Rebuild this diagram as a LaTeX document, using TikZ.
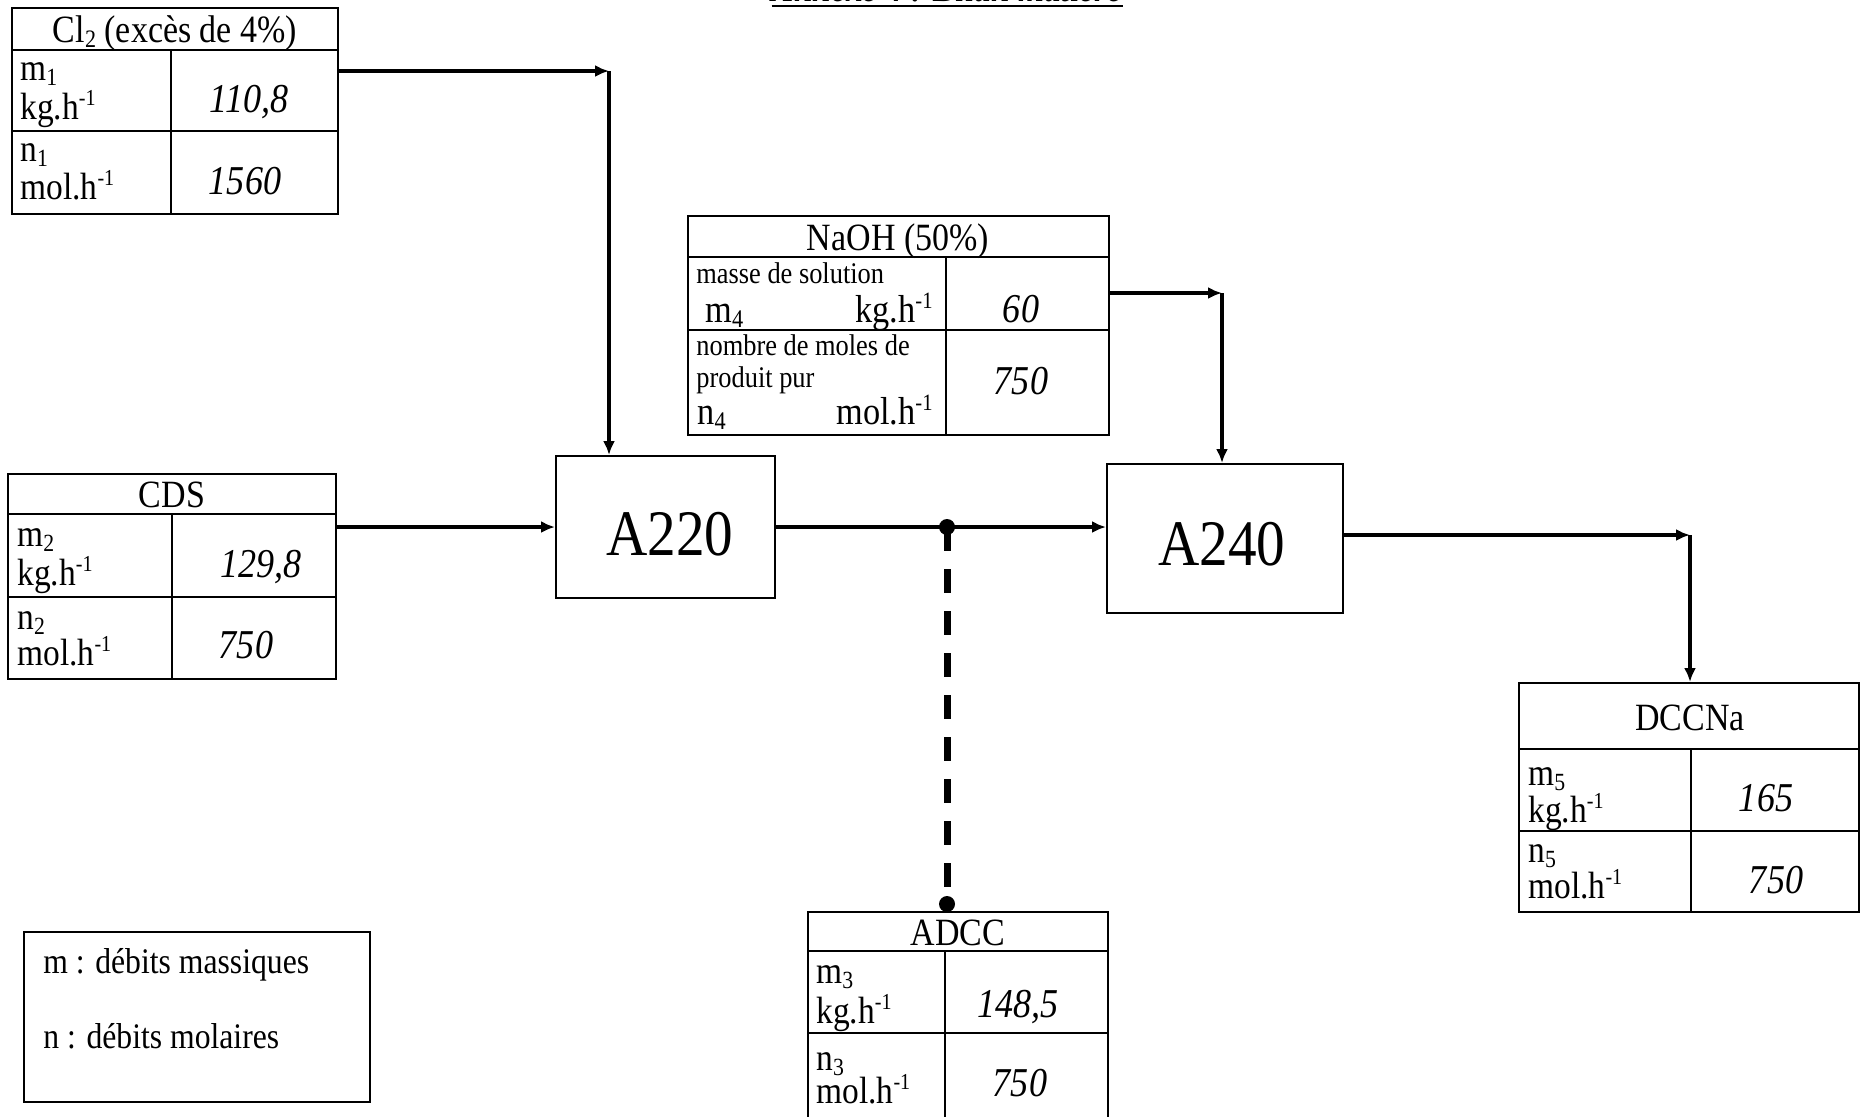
\documentclass[tikz,border=0pt]{standalone}
\usepackage{fontspec}
\setmainfont{Liberation Serif}[FakeStretch=0.88]
\usetikzlibrary{arrows.meta,fit}
\newcommand\sbt[1]{\raisebox{-0.3ex}{\scalebox{0.65}{#1}}}
\newcommand\spt[1]{\raisebox{0.75ex}{\scalebox{0.6}{#1}}}
\newcommand\fs[1]{\fontsize{#1}{#1}\selectfont}
\begin{document}
\begin{tikzpicture}[x=0.5pt,y=-0.5pt,
 cellb/.style={draw, line width=1pt, inner sep=0pt},
 hdr/.style={anchor=base, inner sep=0pt, font=\fs{19.3}},
 lab/.style={anchor=base west, inner sep=0pt, font=\fs{19}},
 unitr/.style={anchor=base east, inner sep=0pt, font=\fs{19.5}},
 smalltxt/.style={anchor=base west, inner sep=0pt, font=\fs{15}},
 val/.style={anchor=base, inner sep=0pt, font=\fs{20.5}\itshape},
 proc/.style={draw, line width=1pt, inner sep=0pt},
 big/.style={anchor=base, inner sep=0pt, font=\fs{32.5}},
 legtxt/.style={anchor=base west, inner sep=0pt, font=\fs{18}},
 flow/.style={line width=1.6pt, -{Latex[length=7pt,width=6pt]}},
 purge/.style={line width=3.5pt, dash pattern=on 12pt off 9pt},
 jdot/.style={circle, fill=black, inner sep=0pt, minimum size=8pt}]
\useasboundingbox (0,0) rectangle (1862,1116);
\clip (0,0) rectangle (1862,1116);
\fill[white] (0,0) rectangle (1862,1116);

% title (cut off at the top)
\node[anchor=base, inner sep=0pt, font=\fs{19}\bfseries\itshape] (title) at (947,1) {Annexe 4 : Bilan matière};
\draw[line width=1.2pt] ([yshift=-2.5pt]title.base west) -- ([yshift=-2.5pt]title.base east);

% Cl2 table
\node[cellb, fit={(12,8)(338,50)}] (clh) {};
\node[cellb, fit={(12,50)(171,131)}] (cll1) {};
\node[cellb, fit={(171,50)(338,131)}] (clv1) {};
\node[cellb, fit={(12,131)(171,214)}] (cll2) {};
\node[cellb, fit={(171,131)(338,214)}] (clv2) {};
\node[hdr] (clht) at (175,42) {Cl\sbt{2} (excès de 4\%)};
\node[lab] (cll1a) at (20,80) {m\sbt{1}};
\node[lab] (cll1b) at (20,119) {kg.h\spt{-1}};
\node[lab] (cll2a) at (20,161) {n\sbt{1}};
\node[lab] (cll2b) at (20,199) {mol.h\spt{-1}};
\node[val] (clv1t) at (249,112) {110,8};
\node[val] (clv2t) at (245,194) {1560};

% CDS table
\node[cellb, fit={(8,474)(336,514)}] (cdh) {};
\node[cellb, fit={(8,514)(172,597)}] (cdl1) {};
\node[cellb, fit={(172,514)(336,597)}] (cdv1) {};
\node[cellb, fit={(8,597)(172,679)}] (cdl2) {};
\node[cellb, fit={(172,597)(336,679)}] (cdv2) {};
\node[hdr] (cdht) at (172,507) {CDS};
\node[lab] (cdl1a) at (17,546) {m\sbt{2}};
\node[lab] (cdl1b) at (17,585) {kg.h\spt{-1}};
\node[lab] (cdl2a) at (17,629) {n\sbt{2}};
\node[lab] (cdl2b) at (17,665) {mol.h\spt{-1}};
\node[val] (cdv1t) at (261,577) {129,8};
\node[val] (cdv2t) at (246,658) {750};

% NaOH table
\node[cellb, fit={(688,216)(1109,257)}] (nah) {};
\node[cellb, fit={(688,257)(946,330)}] (nal1) {};
\node[cellb, fit={(946,257)(1109,330)}] (nav1) {};
\node[cellb, fit={(688,330)(946,435)}] (nal2) {};
\node[cellb, fit={(946,330)(1109,435)}] (nav2) {};
\node[hdr] (naht) at (898,250) {NaOH (50\%)};
\node[smalltxt] (nal1a) at (696,283) {masse de solution};
\node[lab, font=\fs{19.5}] (nal1b) at (705,322) {m\sbt{4}};
\node[unitr] (nal1c) at (933,322) {kg.h\spt{-1}};
\node[smalltxt] (nal2a) at (696,355) {nombre de moles de};
\node[smalltxt] (nal2b) at (696,387) {produit pur};
\node[lab, font=\fs{19.5}] (nal2c) at (697,424) {n\sbt{4}};
\node[unitr] (nal2d) at (933,424) {mol.h\spt{-1}};
\node[val] (nav1t) at (1021,322) {60};
\node[val] (nav2t) at (1021,394) {750};

% ADCC table
\node[cellb, fit={(808,912)(1108,951)}] (adh) {};
\node[cellb, fit={(808,951)(945,1033)}] (adl1) {};
\node[cellb, fit={(945,951)(1108,1033)}] (adv1) {};
\node[cellb, fit={(808,1033)(945,1130)}] (adl2) {};
\node[cellb, fit={(945,1033)(1108,1130)}] (adv2) {};
\node[hdr] (adht) at (958,945) {ADCC};
\node[lab] (adl1a) at (816,983) {m\sbt{3}};
\node[lab] (adl1b) at (816,1023) {kg.h\spt{-1}};
\node[lab] (adl2a) at (816,1070) {n\sbt{3}};
\node[lab] (adl2b) at (816,1103) {mol.h\spt{-1}};
\node[val] (adv1t) at (1018,1017) {148,5};
\node[val] (adv2t) at (1020,1096) {750};

% DCCNa table
\node[cellb, fit={(1519,683)(1859,749)}] (dch) {};
\node[cellb, fit={(1519,749)(1691,831)}] (dcl1) {};
\node[cellb, fit={(1691,749)(1859,831)}] (dcv1) {};
\node[cellb, fit={(1519,831)(1691,912)}] (dcl2) {};
\node[cellb, fit={(1691,831)(1859,912)}] (dcv2) {};
\node[hdr] (dcht) at (1690,730) {DCCNa};
\node[lab] (dcl1a) at (1528,785) {m\sbt{5}};
\node[lab] (dcl1b) at (1528,822) {kg.h\spt{-1}};
\node[lab] (dcl2a) at (1528,862) {n\sbt{5}};
\node[lab] (dcl2b) at (1528,898) {mol.h\spt{-1}};
\node[val] (dcv1t) at (1766,811) {165};
\node[val] (dcv2t) at (1776,893) {750};

% process units
\node[proc, fit={(556,456)(775,598)}] (a220) {};
\node[big] (a220t) at (670,555) {A220};
\node[proc, fit={(1107,464)(1343,613)}] (a240) {};
\node[big] (a240t) at (1222,565) {A240};

% legend
\node[cellb, fit={(24,932)(370,1102)}] (leg) {};
\node[legtxt] (leg1) at (43,973) {m : débits massiques};
\node[legtxt] (leg2) at (43,1048) {n : débits molaires};

% connectors
\coordinate (k1) at (609,71);
\draw[flow] (k1 -| clv1.east) -- (k1);
\draw[flow] (k1) -- (k1 |- a220.north);
\coordinate (k2) at (440,527);
\draw[flow] (k2 -| cdv1.east) -- (k2 -| a220.west);
\coordinate (j) at (947,527);
\draw[flow] (j -| a220.east) -- (j -| a240.west);
\coordinate (k3) at (1222,293);
\draw[flow] (k3 -| nav1.east) -- (k3);
\draw[flow] (k3) -- (k3 |- a240.north);
\coordinate (k4) at (1690,535);
\draw[flow] (k4 -| a240.east) -- (k4);
\draw[flow] (k4) -- (k4 |- dch.north);
\path (j |- adh.north) ++(0,-7) coordinate (jb);
\draw[purge] (j) -- (jb);
\node[jdot] (jt) at (j) {};
\node[jdot] (jbd) at (jb) {};
\end{tikzpicture}
\end{document}
